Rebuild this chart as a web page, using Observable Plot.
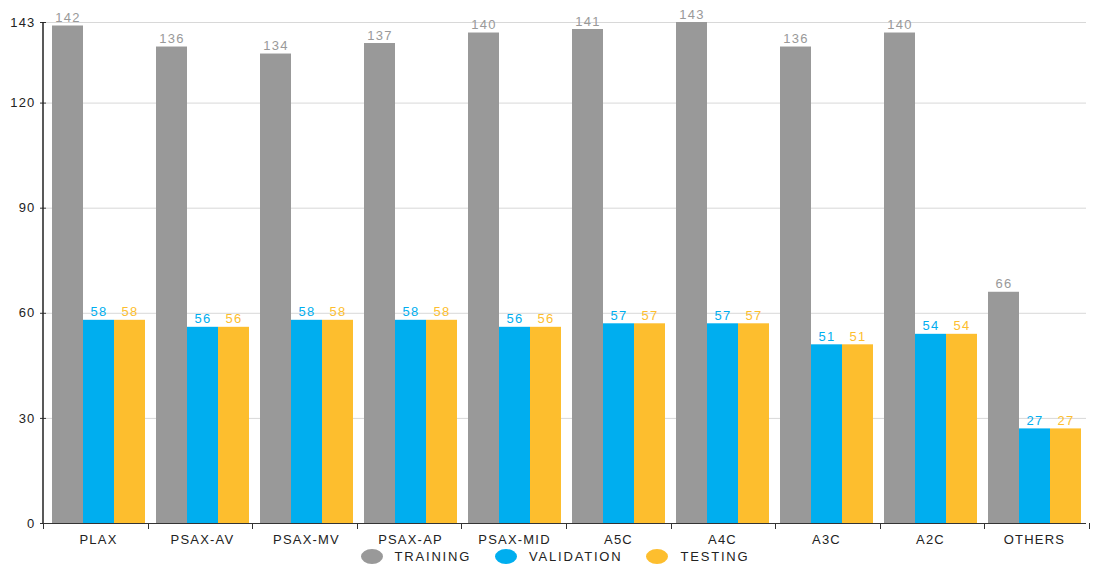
<!DOCTYPE html>
<html>
<head>
<meta charset="utf-8">
<script src="https://cdn.jsdelivr.net/npm/d3@7"></script>
<script src="https://cdn.jsdelivr.net/npm/@observablehq/plot@0.6"></script>
<style>
  html, body { margin: 0; padding: 0; background: #fff; }
  #chart svg { display: block; }
  #legend { display: flex; justify-content: center; align-items: center; height: 20px;
    font-family: "Liberation Sans", Arial, sans-serif; font-size: 13px; letter-spacing: 1.8px; color: #222; }
  #legend .item { display: flex; align-items: center; margin: 0 12px; }
  #legend .dot { width: 22px; height: 15px; border-radius: 50%; margin-right: 12px; }
</style>
</head>
<body>
<div id="chart"></div>
<div id="legend"></div>
<script>
const categories = ["PLAX","PSAX-AV","PSAX-MV","PSAX-AP","PSAX-MID","A5C","A4C","A3C","A2C","OTHERS"];
const series = ["TRAINING","VALIDATION","TESTING"];
const training = [142,136,134,137,140,141,143,136,140,66];
const validation = [58,56,58,58,56,57,57,51,54,27];
const testing = [58,56,58,58,56,57,57,51,54,27];
const colors = ["#999999","#00AEEF","#FDBE2E"];
const yTicks = [0,30,60,90,120,143];

const values = [training, validation, testing];
const rows = [];
categories.forEach((c, i) => series.forEach((s, j) => rows.push({category: c, series: s, value: values[j][i]})));

const plot = Plot.plot({
  width: 1110,
  height: 546,
  marginTop: 22,
  marginBottom: 23,
  marginLeft: 43,
  marginRight: 21,
  style: {fontFamily: "'Liberation Sans', Arial, sans-serif", fontSize: "13px", letterSpacing: "1.2px", color: "#222", background: "#fff"},
  fx: {domain: categories, padding: 0, label: null, axis: null},
  x: {domain: series, paddingInner: 0, paddingOuter: 1/6, axis: null},
  y: {domain: [0, 143], label: null, axis: null},
  color: {domain: series, range: colors},
  marks: [
    Plot.gridY(yTicks.filter(d => d > 0), {stroke: "#d8d8d8", strokeOpacity: 1}),
    Plot.barY(rows, {fx: "category", x: "series", y: "value", fill: "series"}),
    Plot.text(rows, {fx: "category", x: "series", y: "value", text: d => String(d.value), dy: -8, fill: "series", fontSize: 13}),
    Plot.ruleY([0], {stroke: "#333"}),
    Plot.axisY({ticks: yTicks, tickSize: 6, tickPadding: 5, label: null, stroke: "#333", fill: "#222"}),
    Plot.axisFx({anchor: "bottom", tickSize: 0, tickPadding: 11, label: null, fill: "#222"})
  ]
});

document.getElementById("chart").appendChild(plot);

// y-axis line and category boundary ticks, from the plot's own scales
const svgEl = plot.tagName.toLowerCase() === "svg" ? plot : plot.querySelector("svg");
const svg = d3.select(svgEl);
const fxS = plot.scale("fx");
const yS = plot.scale("y");
const [fx0, fx1] = fxS.range;
const [yBottom, yTop] = yS.range;
const step = (fx1 - fx0) / fxS.domain.length;
const g = svg.append("g");
g.append("path")
  .attr("d", `M${fx0},${yBottom + 0.5}V${yTop}`)
  .attr("fill", "none")
  .attr("stroke", "#222").attr("stroke-width", 1.5);
d3.range(fxS.domain.length + 1).forEach(i => {
  const x = Math.round(fx0 + i * step) + 0.5;
  g.append("path").attr("d", `M${x},${yBottom}V${yBottom + 6}`)
    .attr("stroke", "#333").attr("stroke-width", 1);
});

// legend
const legend = d3.select("#legend");
series.forEach((s, i) => {
  const item = legend.append("div").attr("class", "item");
  item.append("div").attr("class", "dot").style("background", colors[i]);
  item.append("span").text(s);
});
</script>
</body>
</html>
